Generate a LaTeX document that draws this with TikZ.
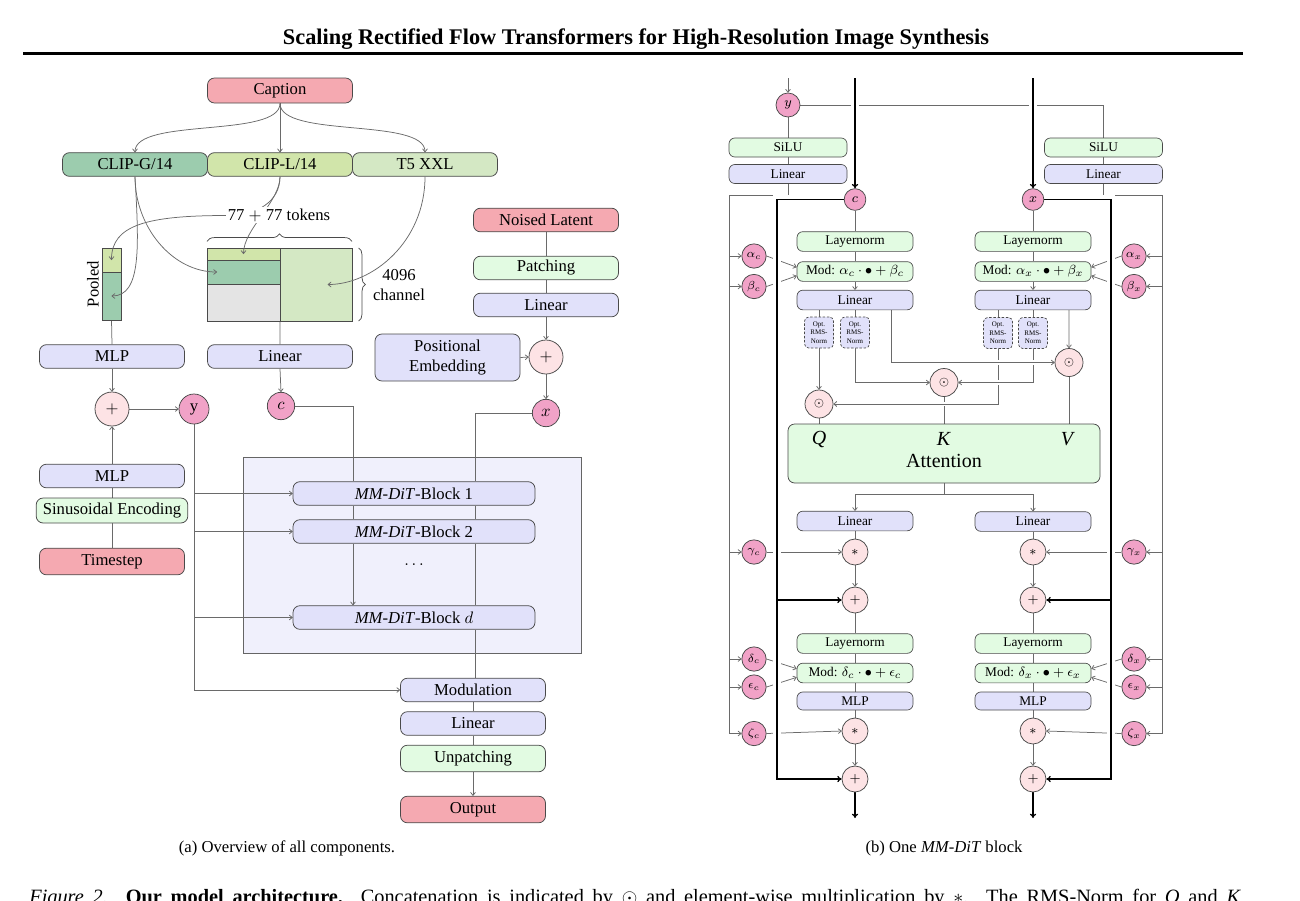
\documentclass[tikz,border=0pt]{standalone}
\usepackage{fontspec}
\setmainfont{Liberation Serif}
\usetikzlibrary{arrows.meta,decorations.pathreplacing,calc}
\definecolor{pinkbox}{HTML}{F5A9B1}
\definecolor{magc}{HTML}{F1A2C7}
\definecolor{lpink}{HTML}{FDE3E5}
\definecolor{lav}{HTML}{E1E1FA}
\definecolor{lgreen}{HTML}{E2FBE2}
\definecolor{clipg}{HTML}{9CCCAE}
\definecolor{clipl}{HTML}{D1E5AA}
\definecolor{tfive}{HTML}{D4E8C4}
\definecolor{greycell}{HTML}{E4E4E4}
\definecolor{blockbg}{HTML}{F0F0FC}
\definecolor{edge}{HTML}{4A4A4A}
\definecolor{wire}{HTML}{6A6A6A}
\pgfdeclarelayer{back}
\pgfdeclarelayer{wires}
\pgfdeclarelayer{top}
\pgfsetlayers{back,wires,main,top}
\tikzset{
  bx/.style={draw=edge, line width=0.45pt, rounded corners=4.2pt, minimum width=87pt, minimum height=14.2pt, inner sep=0pt, font=\fontsize{10}{12}\selectfont},
  sbx/.style={draw=edge, line width=0.4pt, rounded corners=3.5pt, minimum width=69.6pt, minimum height=11.8pt, inner sep=0pt, font=\fontsize{8}{9.5}\selectfont},
  cell/.style={draw=edge, line width=0.45pt, inner sep=0pt, outer sep=0pt},
  circ/.style={circle, draw=edge, line width=0.45pt, inner sep=0pt},
  gcirc/.style={circ, fill=magc, minimum size=14.6pt, font=\scriptsize},
  opcirc/.style={circ, fill=lpink, minimum size=15.6pt, font=\footnotesize},
  catcirc/.style={circ, fill=lpink, minimum size=16.8pt, font=\scriptsize},
  wr/.style={draw=wire, line width=0.45pt},
  ar/.style={wr, -{To[length=2.2pt,width=3.2pt]}},
  thk/.style={draw=black, line width=0.75pt},
  thkar/.style={thk, -{To[length=2.6pt,width=3.8pt]}},
  cased/.style={preaction={draw=white, line width=#1, -}},
  cased/.default=2.5pt,
  optn/.style={draw=edge, line width=0.4pt, dash pattern=on 1.5pt off 1pt, rounded corners=2.5pt, fill=lav, minimum width=17.4pt, minimum height=18.6pt, inner sep=0pt, align=center, font=\fontsize{4.2}{5}\selectfont},
}
\begin{document}
\begin{tikzpicture}[x=0.6pt,y=-0.6pt]
\useasboundingbox (0,0) rectangle (1300,900);
\clip (0,0) rectangle (1300,900);
% ---------- header ----------
\node[font=\fontsize{13.4}{15}\selectfont\bfseries, anchor=base, inner sep=0pt] (title) at (636,44) {Scaling Rectified Flow Transformers for High-Resolution Image Synthesis};
\coordinate (ruleL) at (23,53.5);
\coordinate (ruleR) at (1243,53.5);
\draw[line width=1.6pt] (ruleL) -- (ruleR);

% ---------- panel (a) ----------
\node[bx, fill=pinkbox, minimum height=15pt] (cap) at (280,90.5) {Caption};
\node[bx, fill=clipg] (clipg) at (135,164.5) {CLIP-G/14};
\node[bx, fill=clipl] (clipl) at (280,164.5) {CLIP-L/14};
\node[bx, fill=tfive] (t5) at (425,164.5) {T5 XXL};
\begin{pgfonlayer}{top}
\node[fill=white, inner sep=1pt] (tokens) at (279,215) {77 $+$ 77 tokens};
\end{pgfonlayer}
\coordinate (tokW) at (227,215.5);
\node[cell, fill=clipl, minimum width=43.8pt, minimum height=7.2pt] (tokL) at (243.5,254) {};
\node[cell, fill=clipg, minimum width=43.8pt, minimum height=14.4pt] (tokG) at (243.5,272) {};
\node[cell, fill=greycell, minimum width=43.8pt, minimum height=22.2pt] (tokN) at (243.5,302.5) {};
\node[cell, fill=tfive, minimum width=43.2pt, minimum height=43.8pt] (tokT) at (316,284.5) {};
\node[cell, fill=clipl, minimum width=11.4pt, minimum height=14.4pt] (poolL) at (111.5,260) {};
\node[cell, fill=clipg, minimum width=11.4pt, minimum height=28.8pt] (poolG) at (111.5,296) {};
\node[rotate=90, inner sep=0pt] (pooled) at (93,284) {Pooled};
\draw[draw=edge, line width=0.45pt, decorate, decoration={brace, amplitude=4.5pt}] ([yshift=4pt]tokL.north west) -- ([yshift=4pt]tokT.north east);
\draw[draw=edge, line width=0.45pt, decorate, decoration={brace, amplitude=4pt}] ([xshift=4pt]tokT.north east) -- ([xshift=4pt]tokT.south east);
\node[align=center, inner sep=0pt] (chan) at (399,285) {4096\\channel};

% arrows into cells (on top of cells)
\draw[ar] (clipl.south) .. controls +(0,25) and +(30,0) .. (tokW) .. controls +(-80,0) and +(0,-35) .. (poolL.center);
\draw[ar] (clipl.south) .. controls +(0,25) and +(0,-25) .. (tokL.center);
\draw[ar] (clipg.south) .. controls +(0,50) and +(-45,0) .. ([xshift=6pt]tokG.west);
\draw[ar] (clipg.south) .. controls +(4,70) and +(30,0) .. (poolG.center);
\draw[ar] (t5.south) .. controls +(0,65) and +(45,0) .. ([xshift=7pt]tokT.center);

\node[bx, fill=lav] (mlpA) at (112,356.5) {MLP};
\node[bx, fill=lav] (linA) at (280,356.5) {Linear};
\node[bx, fill=pinkbox] (noised) at (546,220) {Noised Latent};
\node[bx, fill=lgreen] (patch) at (546,268) {Patching};
\node[bx, fill=lav] (linP) at (546,305) {Linear};
\node[bx, fill=lav, minimum height=28.2pt, align=center, font=\fontsize{10}{12.5}\selectfont] (pos) at (447.5,357.5) {Positional\\Embedding};
\node[circ, fill=lpink, minimum size=20.4pt] (plusP) at (546,357) {$+$};
\node[circ, fill=magc, minimum size=16.4pt] (xA) at (546,413) {$x$};
\node[circ, fill=lpink, minimum size=20.4pt] (plusT) at (112,409) {$+$};
\node[circ, fill=magc, minimum size=18pt] (yA) at (194,409) {y};
\node[circ, fill=magc, minimum size=16.4pt] (cA) at (281,406) {$c$};
\node[bx, fill=lav] (mlpB) at (112,476) {MLP};
\node[bx, fill=lgreen, minimum width=91pt, minimum height=15pt] (sin) at (112,510.5) {Sinusoidal Encoding};
\node[bx, fill=pinkbox, minimum height=16pt] (tstep) at (112,561.5) {Timestep};

\begin{pgfonlayer}{back}
\node[draw=edge!85, fill=blockbg, line width=0.45pt, minimum width=202.8pt, minimum height=117.6pt, inner sep=0pt] (blk) at (412,555) {};
\end{pgfonlayer}
\node[bx, fill=lav, minimum width=145.2pt] (b1) at (414,493.5) {\textit{MM-DiT}-Block 1};
\node[bx, fill=lav, minimum width=145.2pt] (b2) at (414,531.5) {\textit{MM-DiT}-Block 2};
\node (dots) at (414,565) {$\dots$};
\node[bx, fill=lav, minimum width=145.2pt] (bd) at (414,617.5) {\textit{MM-DiT}-Block $d$};
\node[bx, fill=lav] (modA) at (473,690) {Modulation};
\node[bx, fill=lav] (linB) at (473,723.5) {Linear};
\node[bx, fill=lgreen, minimum height=16pt] (unp) at (473,758.5) {Unpatching};
\node[bx, fill=pinkbox, minimum height=16pt] (outp) at (473,809.5) {Output};
\node (capa) at (287,848) {(a) Overview of all components.};

\begin{pgfonlayer}{wires}
\draw[ar] (cap.south) .. controls +(0,35) and +(0,-35) .. (clipg.north);
\draw[ar] (cap.south) -- (clipl.north);
\draw[ar] (cap.south) .. controls +(0,35) and +(0,-35) .. (t5.north);
\draw[wr] (poolG.south) -- (mlpA.north);
\draw[wr] (tokT.south west) -- (linA.north);
\draw[ar] (mlpA.south) -- (plusT.north);
\draw[ar] (plusT.east) -- (yA.west);
\draw[ar] (linA.south) -- (cA.north);
\draw[wr] (tstep.north) -- (sin.south);
\draw[wr] (sin.north) -- (mlpB.south);
\draw[ar] (mlpB.north) -- (plusT.south);
\draw[wr] (noised.south) -- (patch.north);
\draw[wr] (patch.south) -- (linP.north);
\draw[ar] (linP.south) -- (plusP.north);
\draw[ar] (pos.east) -- (plusP.west);
\draw[ar] (plusP.south) -- (xA.north);
\draw[wr] (cA.east) -| ([xshift=-36.6pt]b1.north);
\draw[wr] (xA.west) -| ([xshift=36.6pt]b1.north);
\draw[wr] ([xshift=-36.6pt]b1.south) -- ([xshift=-36.6pt]b2.north);
\draw[wr] ([xshift=36.6pt]b1.south) -- ([xshift=36.6pt]b2.north);
\draw[ar] ([xshift=-36.6pt]b2.south) -- ([xshift=-36.6pt]bd.north);
\draw[wr] ([xshift=36.6pt]b2.south) -- ([xshift=36.6pt]bd.north);
\draw[wr] ([xshift=36.6pt]bd.south) -- ([xshift=36.6pt]bd.south |- modA.north);
\draw[ar] (yA.south) |- (modA.west);
\draw[ar] (yA.south |- b1.west) -- (b1.west);
\draw[ar] (yA.south |- b2.west) -- (b2.west);
\draw[ar] (yA.south |- bd.west) -- (bd.west);
\draw[wr] (modA.south) -- (linB.north);
\draw[wr] (linB.south) -- (unp.north);
\draw[ar] (unp.south) -- (outp.north);
\end{pgfonlayer}

% ---------- panel (b) ----------
\coordinate (ytop) at (788,78);
\coordinate (ctop) at (855,78);
\coordinate (xtop) at (1033,78);
\node[circ, fill=magc, minimum size=14.4pt, font=\footnotesize] (yB) at (788,105) {$y$};
\node[sbx, fill=lgreen, minimum width=70.8pt, minimum height=11.4pt] (siluC) at (788,147.5) {SiLU};
\node[sbx, fill=lav, minimum width=70.8pt, minimum height=11.4pt] (linYC) at (788,174) {Linear};
\node[sbx, fill=lgreen, minimum width=70.8pt, minimum height=11.4pt] (siluX) at (1103.5,147.5) {SiLU};
\node[sbx, fill=lav, minimum width=70.8pt, minimum height=11.4pt] (linYX) at (1103.5,174) {Linear};
\node[circ, fill=magc, minimum size=13pt, font=\footnotesize] (cB) at (855,199.5) {$c$};
\node[circ, fill=magc, minimum size=13pt, font=\footnotesize] (xB) at (1033,199.5) {$x$};
\coordinate (outerC) at (729,195);
\coordinate (outerX) at (1162,195);
\coordinate (resC) at (777,199.5);
\coordinate (resX) at (1111,199.5);

\node[sbx, fill=lgreen] (ln1c) at (855,241.5) {Layernorm};
\node[sbx, fill=lgreen] (mod1c) at (855,271.5) {Mod: $\alpha_c\cdot\bullet+\beta_c$};
\node[sbx, fill=lav] (lin1c) at (855,300) {Linear};
\node[sbx, fill=lgreen] (ln1x) at (1033,241.5) {Layernorm};
\node[sbx, fill=lgreen] (mod1x) at (1033,271.5) {Mod: $\alpha_x\cdot\bullet+\beta_x$};
\node[sbx, fill=lav] (lin1x) at (1033,300) {Linear};

\node[optn] (oqc) at (819,332.5) {Opt.\\RMS-\\Norm};
\node[optn] (okc) at (855,332.5) {Opt.\\RMS-\\Norm};
\node[optn] (oqx) at (998,333) {Opt.\\RMS-\\Norm};
\node[optn] (okx) at (1033,333) {Opt.\\RMS-\\Norm};
\node[catcirc] (catQ) at (819,404) {$\odot$};
\node[catcirc] (catK) at (944,382.5) {$\odot$};
\node[catcirc] (catV) at (1069,362.5) {$\odot$};

\node[draw=edge, line width=0.45pt, fill=lgreen, rounded corners=4pt, minimum width=187.2pt, minimum height=35.4pt, inner sep=0pt] (attn) at (944,453.5) {};
\node[font=\fontsize{12}{14}\selectfont, inner sep=0pt] (attnQ) at (819,439) {\textit{Q}};
\node[font=\fontsize{12}{14}\selectfont, inner sep=0pt] (attnK) at (944,439) {\textit{K}};
\node[font=\fontsize{12}{14}\selectfont, inner sep=0pt] (attnV) at (1068,439) {\textit{V}};
\node[font=\fontsize{12}{14}\selectfont, inner sep=0pt] (attnT) at (944,461) {Attention};
\coordinate (split) at (944,494);

\node[sbx, fill=lav] (lin2c) at (855,521) {Linear};
\node[sbx, fill=lav] (lin2x) at (1033,521.5) {Linear};
\node[opcirc] (m1c) at (855,552) {$*$};
\node[opcirc] (p1c) at (855,600) {$+$};
\node[opcirc] (m1x) at (1033,552) {$*$};
\node[opcirc] (p1x) at (1033,600) {$+$};
\node[sbx, fill=lgreen] (ln2c) at (855,643.5) {Layernorm};
\node[sbx, fill=lgreen] (mod2c) at (855,673) {Mod: $\delta_c\cdot\bullet+\epsilon_c$};
\node[sbx, fill=lav, minimum height=10.8pt] (mlp2c) at (855,701) {MLP};
\node[opcirc] (m2c) at (855,731) {$*$};
\node[opcirc] (p2c) at (855,779) {$+$};
\node[sbx, fill=lgreen] (ln2x) at (1033,643.5) {Layernorm};
\node[sbx, fill=lgreen] (mod2x) at (1033,673) {Mod: $\delta_x\cdot\bullet+\epsilon_x$};
\node[sbx, fill=lav, minimum height=10.8pt] (mlp2x) at (1033,701) {MLP};
\node[opcirc] (m2x) at (1033,731) {$*$};
\node[opcirc] (p2x) at (1033,779) {$+$};
\coordinate (outc) at (855,818);
\coordinate (outx) at (1033,818);

\node[gcirc] (ac) at (754,256) {$\alpha_c$};
\node[gcirc] (bc) at (754,286.5) {$\beta_c$};
\node[gcirc] (gc) at (754,552) {$\gamma_c$};
\node[gcirc] (dc) at (754,659) {$\delta_c$};
\node[gcirc] (ec) at (754,687) {$\epsilon_c$};
\node[gcirc] (zc) at (754,733.5) {$\zeta_c$};
\node[gcirc] (ax) at (1134,256) {$\alpha_x$};
\node[gcirc] (bx) at (1134,286.5) {$\beta_x$};
\node[gcirc] (gx) at (1134,552) {$\gamma_x$};
\node[gcirc] (dx) at (1134,659) {$\delta_x$};
\node[gcirc] (ex) at (1134,687) {$\epsilon_x$};
\node[gcirc] (zx) at (1134,733.5) {$\zeta_x$};

\node (capb) at (944,848) {(b) One \textit{MM-DiT} block};

\begin{pgfonlayer}{wires}
% modulation signal
\draw[ar] (ytop) -- (yB.north);
\draw[wr] (yB.east) -| (siluX.north);
\draw[wr] (yB.south) -- (siluC.north);
\draw[wr] (siluC.south) -- (linYC.north);
\draw[wr] (siluX.south) -- (linYX.north);
\draw[ar] (linYC.south) |- (outerC) |- (zc.west);
\draw[ar] (linYX.south) |- (outerX) |- (zx.east);
\foreach \g in {ac,bc,gc,dc,ec} \draw[ar] (outerC |- \g.west) -- (\g.west);
\foreach \g in {ax,bx,gx,dx,ex} \draw[ar] (outerX |- \g.east) -- (\g.east);
\draw[ar] (ac.east) -- ([yshift=2.6pt]mod1c.west);
\draw[ar] (bc.east) -- ([yshift=-2.6pt]mod1c.west);
\draw[ar] (dc.east) -- ([yshift=2.6pt]mod2c.west);
\draw[ar] (ec.east) -- ([yshift=-2.6pt]mod2c.west);
\draw[ar] (gc.east) -- (m1c.west);
\draw[ar] (zc.east) -- (m2c.west);
\draw[ar] (ax.west) -- ([yshift=2.6pt]mod1x.east);
\draw[ar] (bx.west) -- ([yshift=-2.6pt]mod1x.east);
\draw[ar] (dx.west) -- ([yshift=2.6pt]mod2x.east);
\draw[ar] (ex.west) -- ([yshift=-2.6pt]mod2x.east);
\draw[ar] (gx.west) -- (m1x.east);
\draw[ar] (zx.west) -- (m2x.east);
% main streams
\draw[thkar, cased=5pt] (ctop) -- (cB.north);
\draw[thkar, cased=5pt] (xtop) -- (xB.north);
\draw[wr] (cB.south) -- (ln1c.north);
\draw[wr] (ln1c.south) -- (mod1c.north);
\draw[ar] (mod1c.south) -- (lin1c.north);
\draw[wr] (xB.south) -- (ln1x.north);
\draw[wr] (ln1x.south) -- (mod1x.north);
\draw[ar] (mod1x.south) -- (lin1x.north);
\draw[wr] (lin1c.south -| oqc) -- (oqc.north);
\draw[wr] (lin1c.south) -- (okc.north);
\draw[wr] (lin1x.south -| oqx) -- (oqx.north);
\draw[wr] (lin1x.south) -- (okx.north);
\draw[ar] (oqc.south) -- (catQ.north);
\draw[ar] (oqx.south) |- (catQ.east);
\draw[wr] (catK.south) -- (catK.south |- attn.north);
\draw[ar, cased] (okx.south) |- (catK.east);
\draw[ar, cased] (okc.south) |- (catK.west);
\draw[ar, cased] ([xshift=21.6pt]lin1c.south) |- (catV.west);
\draw[ar] ([xshift=21.6pt]lin1x.south) -- (catV.north);
\draw[ar, cased] (oqx.south |- catQ.east) -- (catQ.east);
\draw[wr] (catQ.south) -- (catQ.south |- attn.north);
\draw[wr] (catV.south) -- (catV.south |- attn.north);
\draw[wr] (attn.south) -- (split);
\draw[ar] (split) -| (lin2c.north);
\draw[ar] (split) -| (lin2x.north);
\foreach \s in {c,x}{
  \draw[wr] (lin2\s.south) -- (m1\s.north);
  \draw[ar] (m1\s.south) -- (p1\s.north);
  \draw[wr] (p1\s.south) -- (ln2\s.north);
  \draw[wr] (ln2\s.south) -- (mod2\s.north);
  \draw[wr] (mod2\s.south) -- (mlp2\s.north);
  \draw[wr] (mlp2\s.south) -- (m2\s.north);
  \draw[ar] (m2\s.south) -- (p2\s.north);
}
\draw[thkar] (p2c.south) -- (outc);
\draw[thkar] (p2x.south) -- (outx);
% residual streams
\draw[thkar, cased=5pt] (cB.west) -- (resC) |- (p2c.west);
\draw[thkar] (resC |- p1c.west) -- (p1c.west);
\draw[thkar, cased=5pt] (xB.east) -- (resX) |- (p2x.east);
\draw[thkar] (resX |- p1x.east) -- (p1x.east);
\end{pgfonlayer}

% ---------- figure caption (cut off) ----------
\node[anchor=base west, inner sep=0pt, font=\fontsize{12.2}{14}\selectfont] (figcap) at (29,903) {\makebox[727pt][s]{\textit{Figure 2.} \textbf{Our model architecture.} Concatenation is indicated by $\odot$ and element-wise multiplication by $*$. The RMS-Norm for \textit{Q} and \textit{K}}};
\end{tikzpicture}
\end{document}
